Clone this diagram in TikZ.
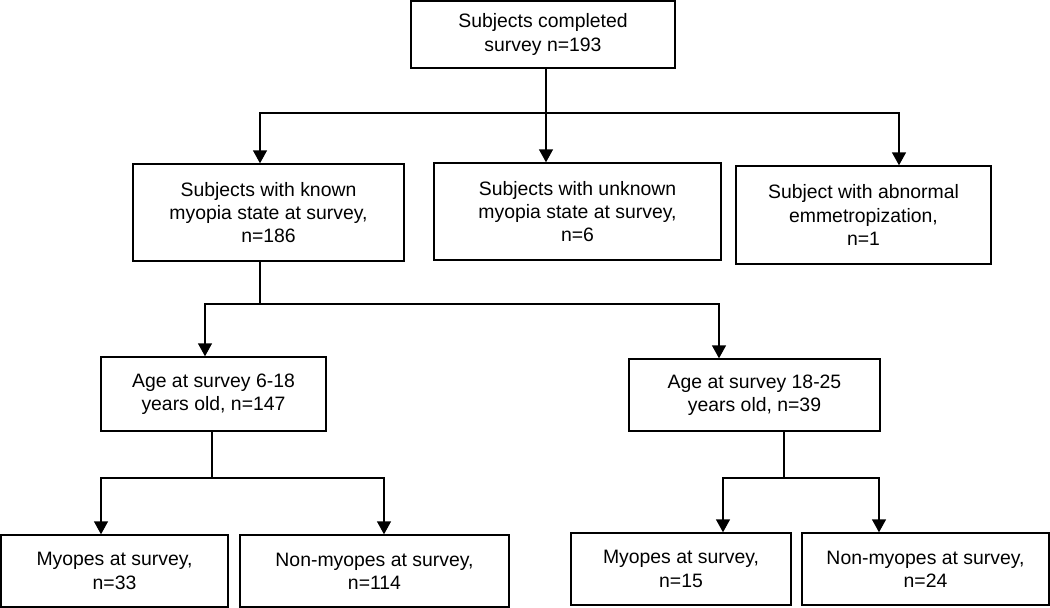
\documentclass[tikz,border=0pt]{standalone}
\usepackage{fontspec}
\setmainfont{Liberation Sans}
\usetikzlibrary{arrows.meta}
\begin{document}
\begin{tikzpicture}[x=1pt,y=1pt,
  box/.style={draw=black, line width=1.4pt, rectangle, align=center, inner sep=0pt,
    font=\fontsize{19.4}{23.3}\selectfont},
  link/.style={draw=black, line width=1.4pt},
  arr/.style={link, -{Triangle[width=14pt,length=13pt]}}]
\useasboundingbox (0,0) rectangle (1050,-608);
\node[box, minimum width=264, minimum height=67] (top) at (543,-34.5) {Subjects completed\\survey n=193};
\node[box, minimum width=271, minimum height=97] (known) at (268.5,-212.5) {Subjects with known\\myopia state at survey,\\n=186};
\node[box, minimum width=287, minimum height=97] (unknown) at (577.5,-211.5) {Subjects with unknown\\myopia state at survey,\\n=6};
\node[box, minimum width=255, minimum height=98] (abnormal) at (863.5,-215) {Subject with abnormal\\emmetropization,\\n=1};
\node[box, minimum width=225, minimum height=74] (age1) at (213.5,-394) {Age at survey 6-18\\years old, n=147};
\node[box, minimum width=251, minimum height=72] (age2) at (754.5,-395) {Age at survey 18-25\\years old, n=39};
\node[box, minimum width=227, minimum height=72] (my33) at (114.5,-571) {Myopes at survey,\\n=33};
\node[box, minimum width=269, minimum height=72] (nm114) at (374.5,-571) {Non-myopes at survey,\\n=114};
\node[box, minimum width=220, minimum height=72] (my15) at (681,-569) {Myopes at survey,\\n=15};
\node[box, minimum width=247, minimum height=72] (nm24) at (925.5,-569) {Non-myopes at survey,\\n=24};
% level 1
\coordinate (j1) at (546,-113);
\draw[link] ([xshift=3]top.south) -- (j1);
\draw[arr] (j1) -- (j1 |- unknown.north);
\draw[arr] (j1) -| ([xshift=-8.5]known.north);
\draw[arr] (j1) -| ([xshift=35.5]abnormal.north);
% level 2
\coordinate (j2) at (260,-304);
\draw[link] ([xshift=-8.5]known.south) -- (j2);
\draw[arr] (j2) -| ([xshift=-8.5]age1.north);
\draw[arr] (j2) -| ([xshift=-35.5]age2.north);
% level 3 left
\coordinate (j3) at (212,-478);
\draw[link] ([xshift=-1.5]age1.south) -- (j3);
\draw[arr] (j3) -| ([xshift=-13.5]my33.north);
\draw[arr] (j3) -| ([xshift=9.5]nm114.north);
% level 3 right
\coordinate (j4) at (784,-478);
\draw[link] ([xshift=29.5]age2.south) -- (j4);
\draw[arr] (j4) -| ([xshift=42]my15.north);
\draw[arr] (j4) -| ([xshift=-46.5]nm24.north);
\end{tikzpicture}
\end{document}
